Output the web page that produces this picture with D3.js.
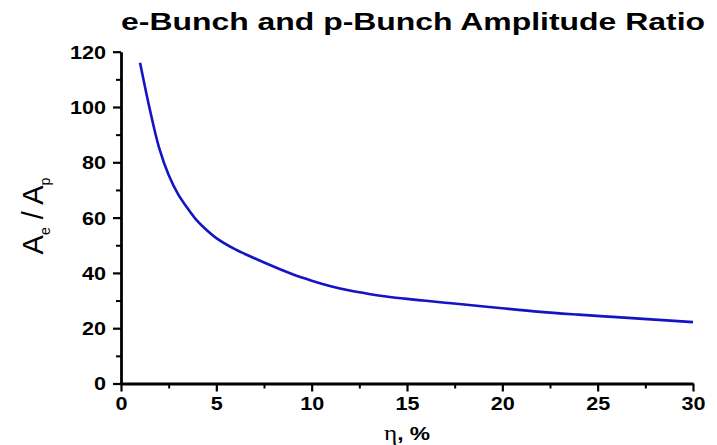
<!DOCTYPE html>
<html>
<head>
<meta charset="utf-8">
<script src="https://cdn.jsdelivr.net/npm/d3@7/dist/d3.min.js"></script>
<style>
  html, body { margin: 0; padding: 0; background: #fff; }
  svg { display: block; }
  text { font-family: "Liberation Sans", Arial, Helvetica, sans-serif; fill: #000; }
</style>
</head>
<body>
<svg id="chart" width="717" height="445"></svg>
<script>
// Amplitude ratio of the e-bunch to the p-bunch versus eta (%)
const eta   = [1, 1.5, 2, 2.5, 3, 3.5, 4, 4.5, 5, 6, 7, 8, 9, 10, 11, 12, 13, 14, 15, 16, 17, 18, 20, 22, 24, 26, 28, 30];
const ratio = [116, 99.5, 85.2, 75.4, 68.4, 63.3, 58.8, 55.4, 52.6, 48.5, 45.3, 42.3, 39.5, 37.2, 35.2, 33.6, 32.4, 31.4, 30.6, 29.9, 29.2, 28.6, 27.2, 25.9, 24.9, 24.0, 23.1, 22.2];

const xMajor = [0, 5, 10, 15, 20, 25, 30];
const xMinor = [2.5, 7.5, 12.5, 17.5, 22.5, 27.5];
const yMajor = [0, 20, 40, 60, 80, 100, 120];
const yMinor = [10, 30, 50, 70, 90, 110];

const titleText = "e-Bunch and p-Bunch Amplitude Ratio";

const svg = d3.select("#chart");
const plotLeft = 121, plotRight = 693, plotTop = 51.7, plotBottom = 383.5;

const x = d3.scaleLinear().domain([0, 30]).range([plotLeft, plotRight]);
const y = d3.scaleLinear().domain([0, 120]).range([plotBottom, plotTop]);

const stretch = 1.2; // horizontally widened lettering

// minor ticks
svg.append("g")
  .attr("transform", `translate(0,${plotBottom})`)
  .call(d3.axisBottom(x).tickValues(xMinor).tickSize(5).tickSizeOuter(0).tickFormat(""))
  .call(g => g.select(".domain").remove())
  .call(g => g.selectAll("line").attr("stroke", "#000").attr("stroke-width", 2));
svg.append("g")
  .attr("transform", `translate(${plotLeft},0)`)
  .call(d3.axisLeft(y).tickValues(yMinor).tickSize(5).tickSizeOuter(0).tickFormat(""))
  .call(g => g.select(".domain").remove())
  .call(g => g.selectAll("line").attr("stroke", "#000").attr("stroke-width", 2));

// x axis
const gx = svg.append("g")
  .attr("transform", `translate(0,${plotBottom})`)
  .call(d3.axisBottom(x).tickValues(xMajor).tickSize(8).tickSizeOuter(0).tickFormat(d3.format("d")));
gx.select(".domain").attr("stroke", "#000").attr("stroke-width", 2.8);
gx.selectAll(".tick line").attr("stroke", "#000").attr("stroke-width", 2.2);
gx.selectAll(".tick text")
  .attr("y", 26.5).attr("dy", 0)
  .attr("transform", `scale(${stretch},1)`)
  .style("font-size", "18px").style("font-weight", "bold");

// y axis
const gy = svg.append("g")
  .attr("transform", `translate(${plotLeft},0)`)
  .call(d3.axisLeft(y).tickValues(yMajor).tickSize(8).tickSizeOuter(0).tickFormat(d3.format("d")));
gy.select(".domain").attr("stroke", "#000").attr("stroke-width", 2.8);
gy.selectAll(".tick line").attr("stroke", "#000").attr("stroke-width", 2.2);
gy.selectAll(".tick text")
  .attr("x", -15 / stretch).attr("dy", "0.36em")
  .attr("transform", `scale(${stretch},1)`)
  .style("font-size", "18px").style("font-weight", "bold");

// curve
const line = d3.line()
  .x((d, i) => x(eta[i]))
  .y(d => y(d))
  .curve(d3.curveCatmullRom.alpha(0.5));
svg.append("path")
  .datum(ratio)
  .attr("d", line)
  .attr("fill", "none")
  .attr("stroke", "#1414c4")
  .attr("stroke-width", 2.6)
  .attr("stroke-linejoin", "round");

// title
svg.append("text")
  .attr("x", 121).attr("y", 30)
  .attr("textLength", 584).attr("lengthAdjust", "spacingAndGlyphs")
  .style("font-size", "23px").style("font-weight", "bold")
  .text(titleText);

// x-axis label: η, %
const xl = svg.append("text")
  .attr("transform", `translate(407,440) scale(${stretch},1)`)
  .attr("text-anchor", "middle")
  .style("font-size", "19px").style("font-weight", "bold");
xl.append("tspan").style("font-family", "'Liberation Serif', 'DejaVu Serif', serif").style("font-weight", "normal").style("font-size", "21px").text("η");
xl.append("tspan").text(", %");

// y-axis label: A_e / A_p
const yl = svg.append("text")
  .attr("transform", "translate(43,216) rotate(-90)")
  .attr("text-anchor", "middle")
  .style("font-size", "29px");
yl.append("tspan").text("A");
yl.append("tspan").attr("dy", 7).style("font-size", "14px").text("e");
yl.append("tspan").attr("dy", -7).text(" / A");
yl.append("tspan").attr("dy", 7).style("font-size", "14px").text("p");
</script>
</body>
</html>
